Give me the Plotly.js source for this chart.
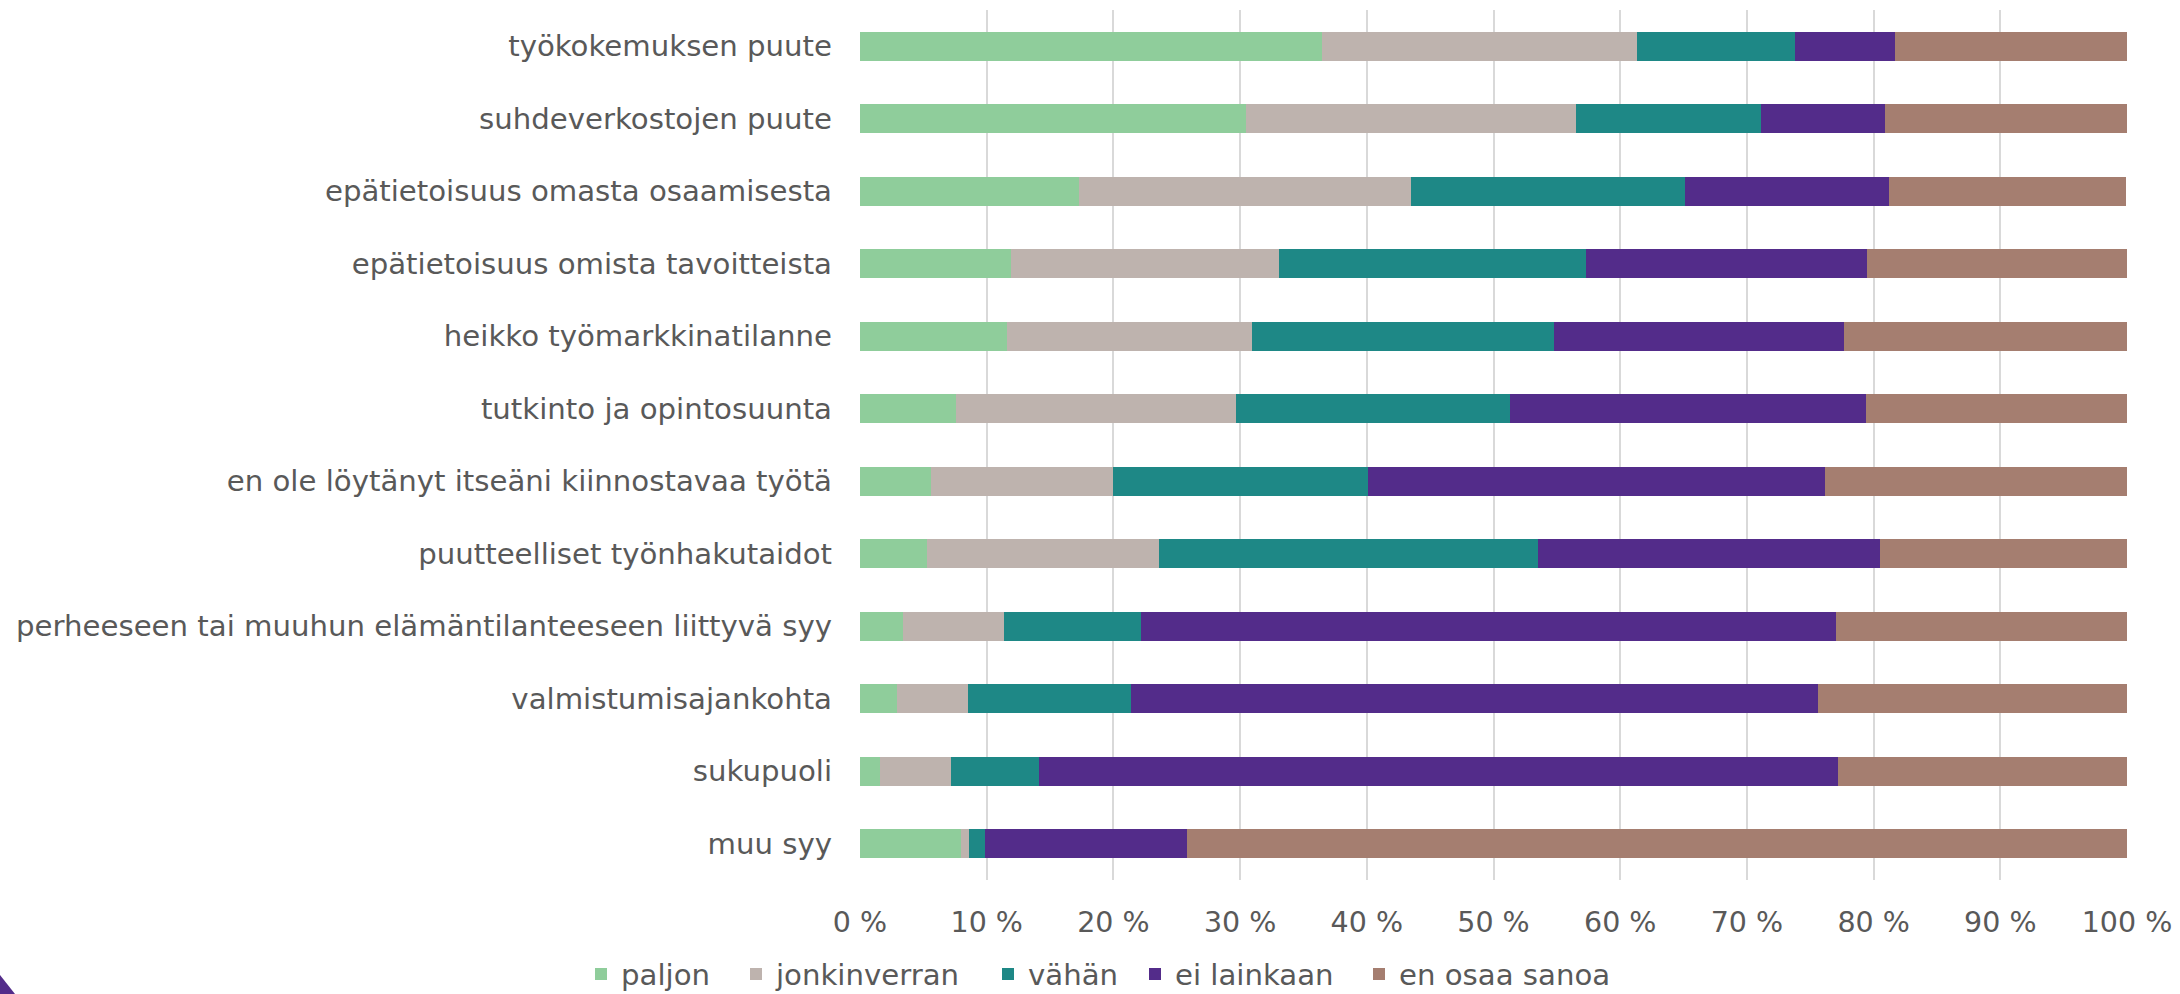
<!DOCTYPE html>
<html>
<head>
<meta charset="utf-8">
<script src="https://cdn.plot.ly/plotly-3.0.1.min.js"></script>
<style>
html, body { margin: 0; padding: 0; background: #ffffff; }
#chart { width: 2180px; height: 994px; }
</style>
</head>
<body>
<div id="chart"></div>
<script>
// Categories, top to bottom
const categories = [
  "työkokemuksen puute",
  "suhdeverkostojen puute",
  "epätietoisuus omasta osaamisesta",
  "epätietoisuus omista tavoitteista",
  "heikko työmarkkinatilanne",
  "tutkinto ja opintosuunta",
  "en ole löytänyt itseäni kiinnostavaa työtä",
  "puutteelliset työnhakutaidot",
  "perheeseen tai muuhun elämäntilanteeseen liittyvä syy",
  "valmistumisajankohta",
  "sukupuoli",
  "muu syy"
];

const seriesNames = ["paljon", "jonkinverran", "vähän", "ei lainkaan", "en osaa sanoa"];

// Percent values per series (same order as categories)
const paljon       = [36.5, 30.5, 17.3, 11.9, 11.6, 7.6, 5.6, 5.3, 3.4, 2.9, 1.6, 8.0];
const jonkinverran = [24.8, 26.0, 26.2, 21.2, 19.3, 22.1, 14.4, 18.3, 8.0, 5.6, 5.6, 0.6];
const vahan        = [12.5, 14.6, 21.6, 24.2, 23.9, 21.6, 20.1, 29.9, 10.8, 12.9, 6.9, 1.3];
const eiLainkaan   = [7.9, 9.8, 16.1, 22.2, 22.9, 28.1, 36.1, 27.0, 54.8, 54.2, 63.1, 15.9];
const enOsaaSanoa  = [18.3, 19.1, 18.7, 20.5, 22.3, 20.7, 23.8, 19.5, 23.0, 24.5, 22.8, 74.2];

const tickValues = [0, 10, 20, 30, 40, 50, 60, 70, 80, 90, 100];
const tickLabels = ["0 %", "10 %", "20 %", "30 %", "40 %", "50 %", "60 %", "70 %", "80 %", "90 %", "100 %"];

const seriesValues = [paljon, jonkinverran, vahan, eiLainkaan, enOsaaSanoa];
const seriesColors = ["#8FCD9B", "#BEB3AE", "#1E8886", "#532C8A", "#A57E70"];

// plot area in pixels
const W = 2180, H = 994;
const L = 860, R = 53, T = 10, B = 114;
const pw = W - L - R, ph = H - T - B;
const px2x = p => (p - L) / pw;
const py2y = p => (H - B - p) / ph;

// legend text start positions (px) for each legend entry
const legendTextStart = [621, 776, 1028, 1175, 1399];
const legendCenterY = 974;

const legendIds = ["legend", "legend2", "legend3", "legend4", "legend5"];

const traces = seriesNames.map((name, i) => ({
  type: "bar",
  orientation: "h",
  name: name,
  x: seriesValues[i],
  y: categories,
  legend: legendIds[i],
  marker: { color: seriesColors[i], line: { width: 0 } },
  hoverinfo: "name+x"
}));

const layout = {
  width: W,
  height: H,
  margin: { l: L, r: R, t: T, b: B, pad: 0, autoexpand: false },
  paper_bgcolor: "#ffffff",
  plot_bgcolor: "#ffffff",
  barmode: "stack",
  bargap: 0.6,
  showlegend: true,
  font: { family: "DejaVu Sans, Verdana, sans-serif", size: 29.2, color: "#595959" },
  xaxis: {
    range: [0, 100],
    tickvals: tickValues,
    ticktext: tickLabels,
    showgrid: true,
    gridcolor: "#D9D9D9",
    gridwidth: 1.5,
    zeroline: false,
    showline: false,
    ticks: "",
    ticklabelstandoff: 22,
    tickfont: { size: 28.5, color: "#595959" },
    fixedrange: true
  },
  yaxis: {
    type: "category",
    categoryorder: "array",
    categoryarray: categories,
    autorange: "reversed",
    showgrid: false,
    zeroline: false,
    showline: false,
    ticks: "",
    ticklabelstandoff: 27,
    tickfont: { size: 29.2, color: "#595959" },
    fixedrange: true
  },
  shapes: [{
    type: "path",
    xref: "paper",
    yref: "paper",
    path: "M " + px2x(0) + " " + py2y(975) + " L " + px2x(15) + " " + py2y(994) +
          " L " + px2x(0) + " " + py2y(994) + " Z",
    fillcolor: "#532C8A",
    line: { width: 0 },
    layer: "above"
  }]
};

legendIds.forEach((id, i) => {
  layout[id] = {
    orientation: "h",
    xref: "container",
    yref: "container",
    x: (legendTextStart[i] - 40) / W,
    xanchor: "left",
    y: (H - legendCenterY) / H,
    yanchor: "middle",
    font: { size: 29.2, color: "#595959" },
    itemwidth: 30,
    borderwidth: 0,
    bgcolor: "rgba(0,0,0,0)"
  };
});

Plotly.newPlot("chart", traces, layout, { displayModeBar: false, responsive: false });
</script>
</body>
</html>
